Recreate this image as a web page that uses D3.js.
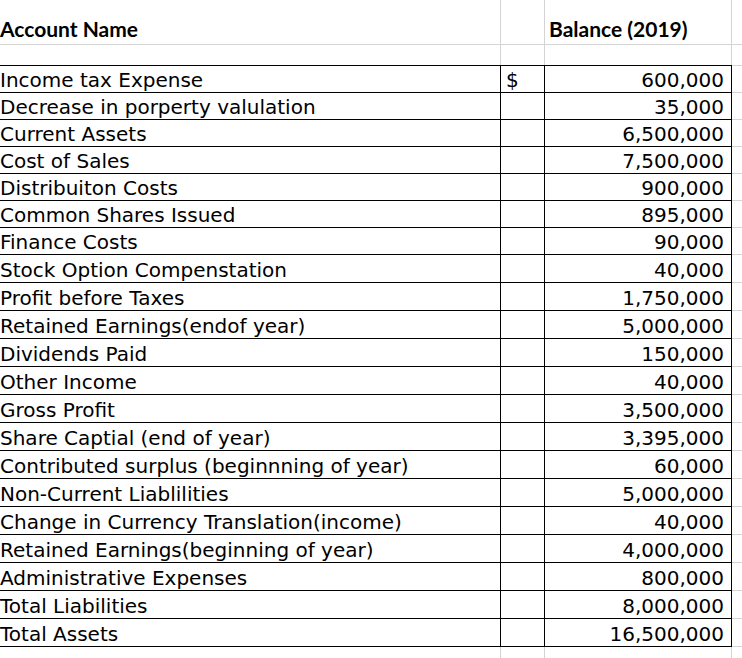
<!DOCTYPE html>
<html>
<head>
<meta charset="utf-8">
<script src="https://cdn.jsdelivr.net/npm/d3@7"></script>
<style>
  body { margin: 0; background: #fff; }
</style>
</head>
<body>
<div class="canvas"></div>
<script>
// table content
const headers = ["Account Name", "Balance (2019)"];
const accounts = [
  "Income tax Expense",
  "Decrease in porperty valulation",
  "Current Assets",
  "Cost of Sales",
  "Distribuiton Costs",
  "Common Shares Issued",
  "Finance Costs",
  "Stock Option Compenstation",
  "Profit before Taxes",
  "Retained Earnings(endof year)",
  "Dividends Paid",
  "Other Income",
  "Gross Profit",
  "Share Captial (end of year)",
  "Contributed surplus (beginnning of year)",
  "Non-Current Liablilities",
  "Change in Currency Translation(income)",
  "Retained Earnings(beginning of year)",
  "Administrative Expenses",
  "Total Liabilities",
  "Total Assets"
];
const balances = [
  600000, 35000, 6500000, 7500000, 900000, 895000, 90000, 40000, 1750000,
  5000000, 150000, 40000, 3500000, 3395000, 60000, 5000000, 40000, 4000000,
  800000, 8000000, 16500000
];
const currencySymbol = "$";

// dimensions
const w = 742;
const h = 658;
const colX = { name: 0, sign: 500, value: 544, end: 731 };
const headerBottom = 44;
const tableTop = 65;
const tableBottom = 646;
const gridColor = "#d4d4d4";
const bodyFont = "'DejaVu Sans', Verdana, sans-serif";
const headFont = "Lato, Calibri, sans-serif";

const svg = d3.select(".canvas").append("svg").attr("width", w).attr("height", h);

// row scale: the first rows are a pixel shorter than the rest (sheet zoom rounding)
const yRow = d3.scaleLinear().domain([0, 7, accounts.length]).range([tableTop, 254, tableBottom]);
const fmt = d3.format(",");

const crisp = (v) => Math.round(v) + 0.5;

// light gridlines of the sheet
const grid = svg.append("g").attr("stroke", gridColor).attr("stroke-width", 1);
[headerBottom, tableTop].forEach((y) =>
  grid.append("line").attr("x1", 0).attr("x2", w).attr("y1", crisp(y)).attr("y2", crisp(y))
);
d3.range(accounts.length + 1).forEach((i) =>
  grid
    .append("line")
    .attr("x1", colX.end)
    .attr("x2", w)
    .attr("y1", crisp(yRow(i)))
    .attr("y2", crisp(yRow(i)))
);
[colX.sign, colX.value, colX.end].forEach((x) => {
  grid.append("line").attr("x1", crisp(x)).attr("x2", crisp(x)).attr("y1", 0).attr("y2", tableTop);
  grid.append("line").attr("x1", crisp(x)).attr("x2", crisp(x)).attr("y1", tableBottom).attr("y2", h);
});

// header texts
svg
  .append("text")
  .attr("x", colX.name)
  .attr("y", 37)
  .attr("font-family", headFont)
  .attr("font-weight", "bold")
  .attr("font-size", 21)
  .text(headers[0]);
svg
  .append("text")
  .attr("x", 549)
  .attr("y", 37)
  .attr("font-family", headFont)
  .attr("font-weight", "bold")
  .attr("font-size", 21)
  .text(headers[1]);

// black cell borders
const borders = svg.append("g").attr("stroke", "#000").attr("stroke-width", 1);
d3.range(accounts.length + 1).forEach((i) =>
  borders
    .append("line")
    .attr("x1", 0)
    .attr("x2", colX.end + 1)
    .attr("y1", crisp(yRow(i)))
    .attr("y2", crisp(yRow(i)))
);
[colX.sign, colX.value, colX.end].forEach((x) =>
  borders
    .append("line")
    .attr("x1", crisp(x))
    .attr("x2", crisp(x))
    .attr("y1", crisp(tableTop))
    .attr("y2", crisp(tableBottom))
);

// rows
const rows = svg
  .selectAll("g.row")
  .data(accounts.map((name, i) => ({ name, value: balances[i], i })))
  .enter()
  .append("g")
  .attr("class", "row")
  .attr("font-family", bodyFont)
  .attr("font-size", 20)
  .attr("fill", "#000");

rows
  .append("text")
  .attr("x", colX.name)
  .attr("y", (d) => yRow(d.i + 1) - 5)
  .text((d) => d.name);

rows
  .append("text")
  .attr("x", 724)
  .attr("y", (d) => yRow(d.i + 1) - 5)
  .attr("text-anchor", "end")
  .text((d) => fmt(d.value));

rows
  .filter((d) => d.i === 0)
  .append("text")
  .attr("x", 506)
  .attr("y", (d) => yRow(d.i + 1) - 5)
  .text(currencySymbol);
</script>
</body>
</html>
